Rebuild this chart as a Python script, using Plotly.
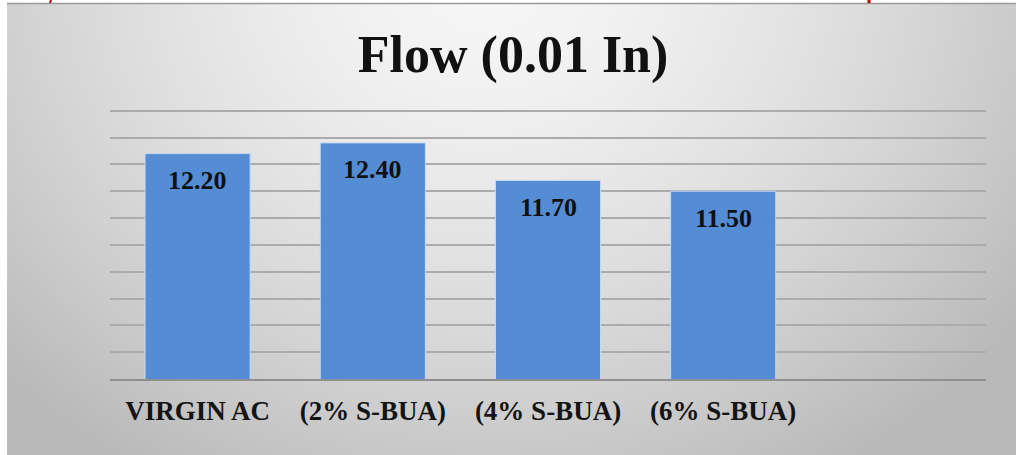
import base64
import struct
import zlib

import numpy as np
import plotly.graph_objects as go

# Flow test results (units of 0.01 in)
categories = ["VIRGIN AC", "(2% S-BUA)", "(4% S-BUA)", "(6% S-BUA)"]
flow_values = [12.20, 12.40, 11.70, 11.50]
value_labels = ["12.20", "12.40", "11.70", "11.50"]
title_text = "Flow (0.01 In)"

# Figure geometry (pixels)
W, H = 1016, 455
ML, MR, MT, MB = 110, 30, 108, 76
PW, PH = W - ML - MR, H - MT - MB

SERIF = "Liberation Serif, Times New Roman, serif"


def px_x(x):
    return (x - ML) / PW


def px_y(y):
    return 1 - (y - MT) / PH


def png_uri(rgb):
    """Encode an HxWx3 uint8 array as a PNG data URI."""
    h, w, _ = rgb.shape
    raw = b"".join(b"\x00" + rgb[i].tobytes() for i in range(h))

    def chunk(tag, data):
        body = tag + data
        return struct.pack(">I", len(data)) + body + struct.pack(">I", zlib.crc32(body) & 0xFFFFFFFF)

    png = (b"\x89PNG\r\n\x1a\n"
           + chunk(b"IHDR", struct.pack(">IIBBBBB", w, h, 8, 2, 0, 0, 0))
           + chunk(b"IDAT", zlib.compress(raw, 9))
           + chunk(b"IEND", b""))
    return "data:image/png;base64," + base64.b64encode(png).decode()


# Soft radial grey backdrop of the chart frame
BX0, BY0 = 7, 4
BW, BH = W - BX0, H - BY0
gw, gh = 252, 113
gx = (np.arange(gw) + 0.5) / gw * BW
gy = (np.arange(gh) + 0.5) / gh * BH
XX, YY = np.meshgrid(gx, gy)
d = np.sqrt(((XX - 480) / 640) ** 2 + ((YY + 30) / 560) ** 2)
shade = 247 - 58 * np.clip(d, 0, 1.25) ** 1.5
shade = np.clip(shade, 185, 250).astype(np.uint8)
backdrop = np.dstack([shade, shade, shade])

fig = go.Figure()
fig.add_trace(go.Bar(
    x=categories,
    y=flow_values,
    width=0.6,
    marker=dict(color="#548dd4", line=dict(color="#c6d9f1", width=1)),
    hoverinfo="skip",
))

annotations = [
    dict(x=c, y=v, xref="x", yref="y", text="<b>" + t + "</b>", showarrow=False,
         yshift=-27, yanchor="middle",
         font=dict(family=SERIF, size=26, color="#111111"))
    for c, v, t in zip(categories, flow_values, value_labels)
]

fig.update_layout(
    width=W, height=H,
    margin=dict(l=ML, r=MR, t=MT, b=MB),
    paper_bgcolor="white",
    plot_bgcolor="rgba(0,0,0,0)",
    showlegend=False,
    title=dict(
        text="<b>" + title_text + "</b>",
        x=0.505, xref="container", xanchor="center",
        y=1 - 54 / H, yref="container", yanchor="middle",
        font=dict(family=SERIF, size=52, color="#111111"),
    ),
    xaxis=dict(
        type="category",
        range=[-0.5, 4.5],
        showgrid=False,
        showline=True, linecolor="#8f8f8f", linewidth=2,
        ticks="",
        ticklabelstandoff=7,
        tickfont=dict(family=SERIF, size=27, color="#141414"),
        tickprefix="<b>", ticksuffix="</b>",
    ),
    yaxis=dict(
        range=[8, 13.05],
        dtick=0.5, tick0=8,
        showgrid=True, gridcolor="#ababab", gridwidth=1.5,
        showticklabels=False, zeroline=False, showline=False, ticks="",
    ),
    annotations=annotations,
    images=[dict(
        source=png_uri(backdrop),
        xref="paper", yref="paper",
        x=px_x(BX0), y=px_y(BY0),
        sizex=BW / PW, sizey=BH / PH,
        xanchor="left", yanchor="top",
        sizing="stretch", layer="below",
    )],
    shapes=[
        # frame top edge
        dict(type="line", xref="paper", yref="paper",
             x0=px_x(BX0), x1=px_x(W), y0=px_y(3.5), y1=px_y(3.5),
             line=dict(color="#9a9a9a", width=1.5)),
        # red glyph fragments along the top edge
        dict(type="line", xref="paper", yref="paper",
             x0=px_x(51), x1=px_x(50), y0=px_y(0), y1=px_y(3),
             line=dict(color="#c00000", width=2)),
        dict(type="line", xref="paper", yref="paper",
             x0=px_x(869), x1=px_x(869), y0=px_y(0), y1=px_y(3),
             line=dict(color="#c00000", width=3)),
    ],
)

fig.write_html("out.html")
